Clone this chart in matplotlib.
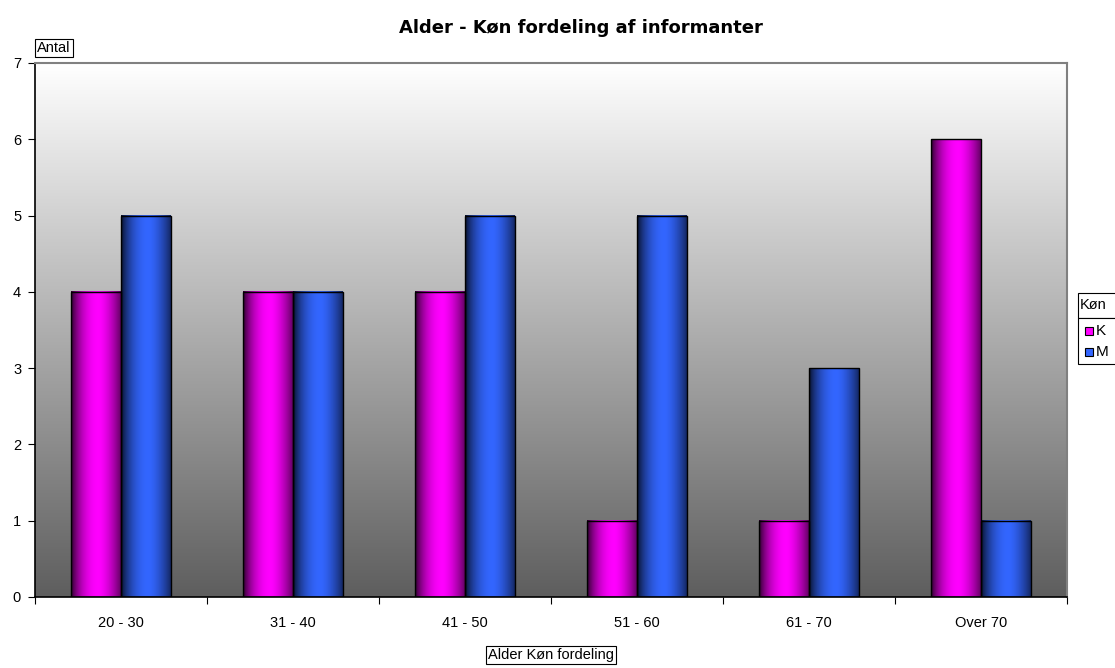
import numpy as np
import matplotlib.pyplot as plt
import matplotlib.colors as mcolors
from matplotlib.patches import Rectangle

plt.rcParams['font.family'] = ['Liberation Sans', 'DejaVu Sans']

# aldersgrupper og antal informanter
grupper = ['20 - 30', '31 - 40', '41 - 50', '51 - 60', '61 - 70', 'Over 70']
kvinder = [4, 4, 4, 1, 1, 6]
maend = [5, 4, 5, 5, 3, 1]
serier = ['K', 'M']
farver = ['#ff00ff', '#3366ff']

W, H = 1115, 668
fig = plt.figure(figsize=(W / 100, H / 100), dpi=100)
ax = fig.add_axes([35/W, 71/H, 1032/W, 534/H])

x = np.arange(len(grupper))
b = 0.29

# baggrund: lodret gradient hvid -> mørkegrå
grad = np.linspace(0, 1, 256).reshape(-1, 1)
bg = mcolors.LinearSegmentedColormap.from_list('bg', ['#ffffff', '#5e5e5e'])
ax.imshow(grad, cmap=bg, aspect='auto', extent=[-0.5, 5.5, 0, 7],
          origin='upper', zorder=0)


def cylinder(farve):
    # vandret skygge: mørk kant, lys midte
    c = np.array(mcolors.to_rgb(farve))
    t = np.linspace(0, 1, 80)
    m = 0.55
    lys = np.where(t < m,
                   0.12 + 0.88 * np.sin(np.pi / 2 * t / m) ** 0.7,
                   1 - 0.6 * ((t - m) / (1 - m)) ** 1.6)
    img = c[None, :] * lys[:, None]
    return img[None, :, :]


for i, (vals, farve) in enumerate(zip([kvinder, maend], farver)):
    bars = ax.bar(x + (i - 0.5) * b, vals, width=b, facecolor='none',
                  edgecolor='black', linewidth=1.0, zorder=3)
    for r in bars:
        x0, h, w = r.get_x(), r.get_height(), r.get_width()
        ax.imshow(cylinder(farve), aspect='auto',
                  extent=[x0, x0 + w, 0, h], zorder=2)

ax.set_xlim(-0.5, 5.5)
ax.set_ylim(0, 7)
ax.set_yticks(range(8))
ax.set_xticks(np.arange(-0.5, 6, 1))
ax.set_xticklabels([])
ax.set_xticks(x, minor=True)
ax.set_xticklabels(grupper, minor=True)
ax.tick_params(axis='x', which='minor', length=0, pad=14, labelsize=10.5)
ax.tick_params(axis='x', which='major', length=5, direction='out', color='black')
ax.tick_params(axis='y', length=5, direction='out', labelsize=10.5, pad=5)

for s in ['top', 'right']:
    ax.spines[s].set_color('#808080')
    ax.spines[s].set_linewidth(1.5)
ax.spines['left'].set_linewidth(1.2)
ax.spines['bottom'].set_linewidth(1.2)

fig.text(581/W, 1 - 28/H, 'Alder - Køn fordeling af informanter', ha='center',
         va='center', fontsize=13, fontweight='bold', family='DejaVu Sans')

boks = dict(boxstyle='square,pad=0.15', fc='white', ec='black', lw=0.8)
fig.text(37/W, 1 - 48/H, 'Antal', ha='left', va='center', fontsize=10.5, bbox=boks)
fig.text(551/W, 1 - 655/H, 'Alder Køn fordeling', ha='center', va='center',
         fontsize=10.5, bbox=boks)

# forklaring til højre, boksen løber ud over kanten
px = lambda x0, y0, w, h: (x0 / W, 1 - (y0 + h) / H, w / W, h / H)
for y0, h in [(293, 25), (318, 46)]:
    x0, y1, w, hh = px(1078, y0, 60, h)
    fig.patches.append(Rectangle((x0, y1), w, hh, transform=fig.transFigure,
                                 fc='white', ec='black', lw=0.8))
fig.text(1080/W, 1 - 305/H, 'Køn', ha='left', va='center', fontsize=10.5)
for j, (s, f) in enumerate(zip(serier, farver)):
    yc = 331 + j * 21
    x0, y1, w, hh = px(1085, yc - 4, 8, 8)
    fig.patches.append(Rectangle((x0, y1), w, hh, transform=fig.transFigure,
                                 fc=f, ec='black', lw=0.8))
    fig.text(1096/W, 1 - yc/H, s, ha='left', va='center', fontsize=11)

fig.savefig('out.png', dpi=100)
